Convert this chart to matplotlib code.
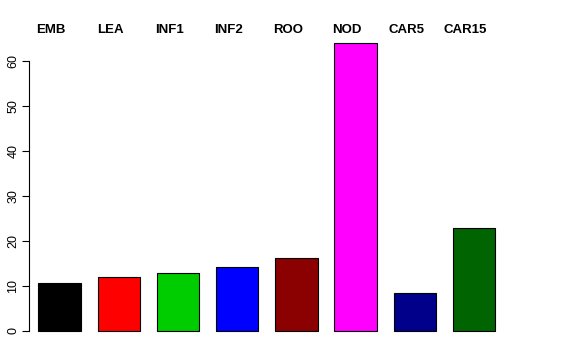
import matplotlib
matplotlib.use("Agg")
import matplotlib.pyplot as plt
import numpy as np

categories = ["EMB", "LEA", "INF1", "INF2", "ROO", "NOD", "CAR5", "CAR15"]
values = [10.6, 11.9, 12.8, 14.15, 16.15, 64.0, 8.5, 23.0]
colors = ["#000000", "#FF0000", "#00CD00", "#0000FF", "#8B0000", "#FF00FF", "#00008B", "#006400"]
yticks = [0, 10, 20, 30, 40, 50, 60]

plt.rcParams['font.family'] = ['Liberation Sans', 'DejaVu Sans']

W, H = 576, 360
fig = plt.figure(figsize=(W / 100, H / 100), dpi=100)

# pixel geometry
px_per_x = 42.3
x0_px = 21.4          # pixel of x=0
px_per_y = 4.5
y0_px = 331           # pixel of y=0
left_px, right_px = 29, 520
top_px, bot_px = 35, 340

ax = fig.add_axes([left_px / W, 1 - bot_px / H, (right_px - left_px) / W, (bot_px - top_px) / H])
ax.set_xlim((left_px - x0_px) / px_per_x, (right_px - x0_px) / px_per_x)
ax.set_ylim((y0_px - bot_px) / px_per_y, (y0_px - top_px) / px_per_y)

centers = 0.9 + 1.4 * np.arange(len(categories))
ax.bar(centers, values, width=1.0, color=colors, edgecolor="black", linewidth=0.8)

for sp in ["top", "right", "bottom"]:
    ax.spines[sp].set_visible(False)
ax.spines["left"].set_bounds(0, 60)
ax.spines["left"].set_linewidth(0.8)
ax.set_xticks([])
ax.set_yticks(yticks)
ax.set_yticklabels([str(t) for t in yticks], rotation=90, va="center", fontsize=9)
ax.tick_params(axis="y", length=5, width=0.8, pad=2)

for c, name in zip(centers, categories):
    fig.text((x0_px + (c - 0.2) * px_per_x) / W, 1 - 29.7 / H, name,
             ha="center", va="center", fontsize=9.5, fontweight="bold")

fig.savefig("out.png", dpi=100)
